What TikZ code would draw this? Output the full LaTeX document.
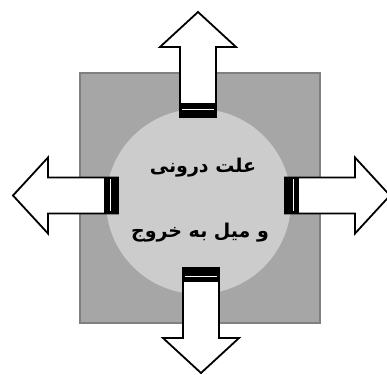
\documentclass[tikz,border=0pt]{standalone}
\usepackage{fontspec}
\usepackage{tikz}
\TeXXeTstate=1
\newfontfamily\arabicfont[Script=Arabic]{DejaVu Sans}
\tikzset{
  sq/.style={draw=black!50, line width=1.5pt, fill=black!35, minimum width=240pt, minimum height=250pt, inner sep=0pt},
  disc/.style={circle, fill=black!20, minimum size=185pt, inner sep=0pt},
  lbl/.style={font=\arabicfont\bfseries\fontsize{19}{22}\selectfont, inner sep=1pt},
  outarrow/.pic={
    \draw[fill=white, line width=1.8pt, miter limit=10] (-18,0) -- (-18,70) -- (-38,70) -- (0,105) -- (38,70) -- (18,70) -- (18,0) -- cycle;
    \fill (-18,0) rectangle (18,14);
    \draw[white, line width=0.9pt] (-16,8) -- (16,8);
  }
}

\begin{document}
\begin{tikzpicture}[x=1pt, y=1pt]
  \useasboundingbox (0,0) rectangle (387,374);
  \node[sq] (sq) at (200,176) {};
  \node[disc] (cr) at (198.5,172.5) {};
  \node[lbl] (t1) at (203,206) {\beginR علت درونی\endR};
  \node[lbl] (t2) at (200,141) {\beginR و میل به خروج\endR};

  \pic[rotate=0] (up) at (198,257) {outarrow};
  \pic[rotate=180] (dn) at (201,106) {outarrow};
  \pic[rotate=-90] (rt) at (285,178.5) {outarrow};
  \pic[rotate=90] (lt) at (118,178.5) {outarrow};
\end{tikzpicture}
\end{document}
